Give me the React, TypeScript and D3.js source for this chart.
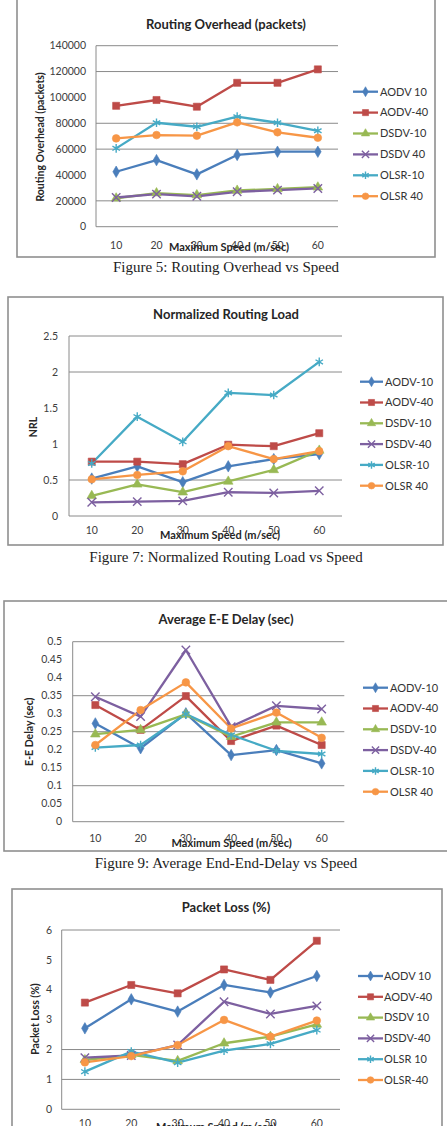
import React, { useEffect, useRef } from 'react';
import * as d3 from 'd3';

const speeds = [10, 20, 30, 40, 50, 60];
const lineColors = ['#4A7EBB', '#BE4B48', '#98B954', '#7D60A0', '#46AAC5', '#F79646'];
const markerKinds = ['diamond', 'square', 'triangle', 'times', 'asterisk', 'circle'];

// Routing overhead (packets)
const overheadNames = ['AODV 10', 'AODV-40', 'DSDV-10', 'DSDV 40', 'OLSR-10', 'OLSR 40'];
const overheadAodv10 = [42500, 51500, 40500, 55500, 58000, 58000];
const overheadAodv40 = [93500, 98000, 92800, 111300, 111300, 121700];
const overheadDsdv10 = [22000, 26000, 24500, 28000, 29200, 30500];
const overheadDsdv40 = [22600, 25200, 23500, 27000, 28300, 29600];
const overheadOlsr10 = [60600, 80400, 77300, 85100, 80400, 74200];
const overheadOlsr40 = [68300, 70900, 70400, 80700, 73000, 68800];
const overheadTicks = [0, 20000, 40000, 60000, 80000, 100000, 120000, 140000];
const overheadGrid = [20000, 60000, 80000, 120000, 140000];

// Normalized routing load
const nrlNames = ['AODV-10', 'AODV-40', 'DSDV-10', 'DSDV-40', 'OLSR-10', 'OLSR 40'];
const nrlAodv10 = [0.52, 0.69, 0.47, 0.69, 0.79, 0.86];
const nrlAodv40 = [0.755, 0.755, 0.72, 0.99, 0.97, 1.15];
const nrlDsdv10 = [0.28, 0.44, 0.33, 0.48, 0.64, 0.91];
const nrlDsdv40 = [0.19, 0.2, 0.21, 0.33, 0.32, 0.35];
const nrlOlsr10 = [0.73, 1.38, 1.03, 1.71, 1.68, 2.14];
const nrlOlsr40 = [0.51, 0.57, 0.62, 0.97, 0.79, 0.9];
const nrlTicks = [0, 0.5, 1, 1.5, 2, 2.5];
const nrlGrid = [0.5, 2, 2.5];

// Average end-to-end delay (sec)
const delayNames = ['AODV-10', 'AODV-40', 'DSDV-10', 'DSDV-40', 'OLSR-10', 'OLSR 40'];
const delayAodv10 = [0.273, 0.204, 0.301, 0.185, 0.199, 0.162];
const delayAodv40 = [0.324, 0.255, 0.349, 0.224, 0.267, 0.213];
const delayDsdv10 = [0.243, 0.255, 0.298, 0.236, 0.276, 0.276];
const delayDsdv40 = [0.347, 0.292, 0.477, 0.264, 0.322, 0.313];
const delayOlsr10 = [0.206, 0.213, 0.299, 0.241, 0.197, 0.188];
const delayOlsr40 = [0.213, 0.31, 0.387, 0.259, 0.303, 0.233];
const delayTicks = [0, 0.05, 0.1, 0.15, 0.2, 0.25, 0.3, 0.35, 0.4, 0.45, 0.5];
const delayGrid = [0.1, 0.25, 0.35, 0.5];

// Packet loss (%)
const lossNames = ['AODV 10', 'AODV-40', 'DSDV 10', 'DSDV-40', 'OLSR 10', 'OLSR-40'];
const lossAodv10 = [2.71, 3.68, 3.27, 4.16, 3.91, 4.46];
const lossAodv40 = [3.57, 4.16, 3.88, 4.68, 4.33, 5.64];
const lossDsdv10 = [1.65, 1.82, 1.62, 2.21, 2.43, 2.84];
const lossDsdv40 = [1.73, 1.8, 2.15, 3.6, 3.19, 3.46];
const lossOlsr10 = [1.26, 1.93, 1.56, 1.96, 2.19, 2.65];
const lossOlsr40 = [1.57, 1.78, 2.15, 2.99, 2.43, 2.97];
const lossTicks = [0, 1, 2, 3, 4, 5, 6];
const lossGrid = [1, 2, 6];

const charts = [
  {
    title: 'Routing Overhead (packets)', yTitle: 'Routing Overhead (packets)',
    caption: 'Figure 5: Routing Overhead vs Speed',
    names: overheadNames,
    series: [overheadAodv10, overheadAodv40, overheadDsdv10, overheadDsdv40, overheadOlsr10, overheadOlsr40],
    ticks: overheadTicks, grid: overheadGrid,
    frame: [17, -6, 418, 263], plot: [96, 338, 45.7, 226.7], titleY: 24, tickX: 86,
    legend: [353, 378, 380, 91.7, 20.9], yTitleX: 40, yTitleY: 137,
    xTickY: 245, xTitleX: 229, xTitleY: 247.5, captionY: 267,
  },
  {
    title: 'Normalized Routing Load', yTitle: 'NRL',
    caption: 'Figure 7: Normalized Routing Load vs Speed',
    names: nrlNames,
    series: [nrlAodv10, nrlAodv40, nrlDsdv10, nrlDsdv40, nrlOlsr10, nrlOlsr40],
    ticks: nrlTicks, grid: nrlGrid,
    frame: [8, 297, 435, 248], plot: [69, 342, 336, 516], titleY: 314, tickX: 58,
    legend: [360, 383, 385, 381.7, 20.8], yTitleX: 33, yTitleY: 427,
    xTickY: 530.5, xTitleX: 220, xTitleY: 535.5, captionY: 556.5,
  },
  {
    title: 'Average E-E Delay (sec)', yTitle: 'E-E Delay (sec)',
    caption: 'Figure 9: Average End-End-Delay vs Speed',
    names: delayNames,
    series: [delayAodv10, delayAodv40, delayDsdv10, delayDsdv40, delayOlsr10, delayOlsr40],
    ticks: delayTicks, grid: delayGrid,
    frame: [4, 601, 446, 250], plot: [72.7, 344.3, 641.7, 821.7], titleY: 619.3, tickX: 62,
    legend: [363, 388, 390, 687.7, 20.8], yTitleX: 29, yTitleY: 731.7,
    xTickY: 838, xTitleX: 231.7, xTitleY: 843, captionY: 863,
  },
  {
    title: 'Packet Loss (%)', yTitle: 'Packet Loss (%)',
    caption: null,
    names: lossNames,
    series: [lossAodv10, lossAodv40, lossDsdv10, lossDsdv40, lossOlsr10, lossOlsr40],
    ticks: lossTicks, grid: lossGrid,
    frame: [12, 889, 430, 260], plot: [61.7, 340, 930, 1109.3], titleY: 907.7, tickX: 52,
    legend: [358, 383, 384, 976, 20.8], yTitleX: 35, yTitleY: 1019,
    xTickY: 1123, xTitleX: 216, xTitleY: 1127, captionY: 0,
  },
];

const sans = 'Lato, "Open Sans", sans-serif';
const serif = '"Liberation Serif", "DejaVu Serif", serif';

const symbolFor = (kind, scale) => {
  const types = {
    diamond: [d3.symbolDiamond, 38],
    square: [d3.symbolSquare, 50],
    triangle: [d3.symbolTriangle, 40],
    times: [d3.symbolTimes, 48],
    asterisk: [d3.symbolAsterisk, 52],
    circle: [d3.symbolCircle, 46],
  };
  const [type, size] = types[kind];
  return d3.symbol().type(type).size(size * scale)();
};

const drawMarker = (g, kind, color, x, y, scale) => {
  const stroked = kind === 'times' || kind === 'asterisk';
  g.append('path')
    .attr('d', symbolFor(kind, scale))
    .attr('transform', `translate(${x},${y})`)
    .attr('fill', stroked ? 'none' : color)
    .attr('stroke', color)
    .attr('stroke-width', stroked ? 1.4 : 0.6);
};

const fmt = (v) => String(v);

function drawChart(svg, c) {
  const g = svg.append('g');
  const [fx, fy, fw, fh] = c.frame;
  g.append('rect')
    .attr('x', fx).attr('y', fy).attr('width', fw).attr('height', fh)
    .attr('fill', '#fff').attr('stroke', '#8f8f8f').attr('stroke-width', 1.6);

  const [l, r, t, b] = c.plot;
  const x = d3.scalePoint().domain(speeds.map(String)).range([l, r]).padding(0.5);
  const y = d3.scaleLinear().domain([c.ticks[0], c.ticks[c.ticks.length - 1]]).range([b, t]);

  g.append('text')
    .attr('x', 226).attr('y', c.titleY).attr('dy', '0.35em')
    .attr('text-anchor', 'middle')
    .attr('font-family', sans).attr('font-weight', 700).attr('font-size', 13)
    .attr('fill', '#262626').text(c.title);

  g.selectAll('.grid').data(c.grid).enter().append('line')
    .attr('x1', l).attr('x2', r)
    .attr('y1', (d) => y(d)).attr('y2', (d) => y(d))
    .attr('stroke', '#8a8a8a').attr('stroke-width', 1);

  g.append('line').attr('x1', l).attr('x2', l).attr('y1', t).attr('y2', b)
    .attr('stroke', '#8a8a8a');
  g.append('line').attr('x1', l).attr('x2', r).attr('y1', b).attr('y2', b)
    .attr('stroke', '#8a8a8a');

  g.selectAll('.ytick').data(c.ticks).enter().append('text')
    .attr('x', c.tickX).attr('y', (d) => y(d)).attr('dy', '0.35em')
    .attr('text-anchor', 'end')
    .attr('font-family', sans).attr('font-size', 10.5).attr('fill', '#404040')
    .text(fmt);

  // the speed labels sit right on top of the axis title, as in the source chart
  g.selectAll('.xtick').data(speeds).enter().append('text')
    .attr('x', (d) => x(String(d))).attr('y', c.xTickY).attr('dy', '0.35em')
    .attr('text-anchor', 'middle')
    .attr('font-family', sans).attr('font-size', 10.5).attr('fill', '#404040')
    .text(fmt);

  g.append('text')
    .attr('x', c.xTitleX).attr('y', c.xTitleY).attr('dy', '0.35em')
    .attr('text-anchor', 'middle')
    .attr('font-family', sans).attr('font-weight', 700).attr('font-size', 11)
    .attr('fill', '#262626').text('Maximum Speed (m/sec)');

  g.append('text')
    .attr('transform', `translate(${c.yTitleX},${c.yTitleY}) rotate(-90)`)
    .attr('dy', '0.35em').attr('text-anchor', 'middle')
    .attr('font-family', sans).attr('font-weight', 700).attr('font-size', 10.5)
    .attr('fill', '#262626').text(c.yTitle);

  const line = d3.line().x((d, i) => x(String(speeds[i]))).y((d) => y(d));
  c.series.forEach((vals, k) => {
    g.append('path').attr('d', line(vals))
      .attr('fill', 'none').attr('stroke', lineColors[k])
      .attr('stroke-width', 2.3).attr('stroke-linejoin', 'round');
  });
  c.series.forEach((vals, k) => {
    vals.forEach((v, i) => drawMarker(g, markerKinds[k], lineColors[k], x(String(speeds[i])), y(v), 1));
  });

  const [lx1, lx2, lt, ly0, step] = c.legend;
  c.names.forEach((name, k) => {
    const ly = ly0 + k * step;
    g.append('line').attr('x1', lx1).attr('x2', lx2).attr('y1', ly).attr('y2', ly)
      .attr('stroke', lineColors[k]).attr('stroke-width', 2.3);
    drawMarker(g, markerKinds[k], lineColors[k], (lx1 + lx2) / 2, ly, 0.75);
    g.append('text').attr('x', lt).attr('y', ly).attr('dy', '0.35em')
      .attr('font-family', sans).attr('font-size', 11).attr('fill', '#333')
      .text(name);
  });

  if (c.caption) {
    svg.append('text')
      .attr('x', 226).attr('y', c.captionY).attr('dy', '0.35em')
      .attr('text-anchor', 'middle')
      .attr('font-family', serif).attr('font-size', 15).attr('fill', '#222')
      .text(c.caption);
  }
}

export default function App() {
  const ref = useRef(null);

  useEffect(() => {
    const svg = d3.select(ref.current);
    svg.selectAll('*').remove();
    svg.append('rect').attr('width', 447).attr('height', 1126).attr('fill', '#fff');
    charts.forEach((c) => drawChart(svg, c));
  }, []);

  return (
    <svg
      ref={ref}
      width={447}
      height={1126}
      style={{ position: 'absolute', left: 0, top: 0, display: 'block' }}
    />
  );
}
